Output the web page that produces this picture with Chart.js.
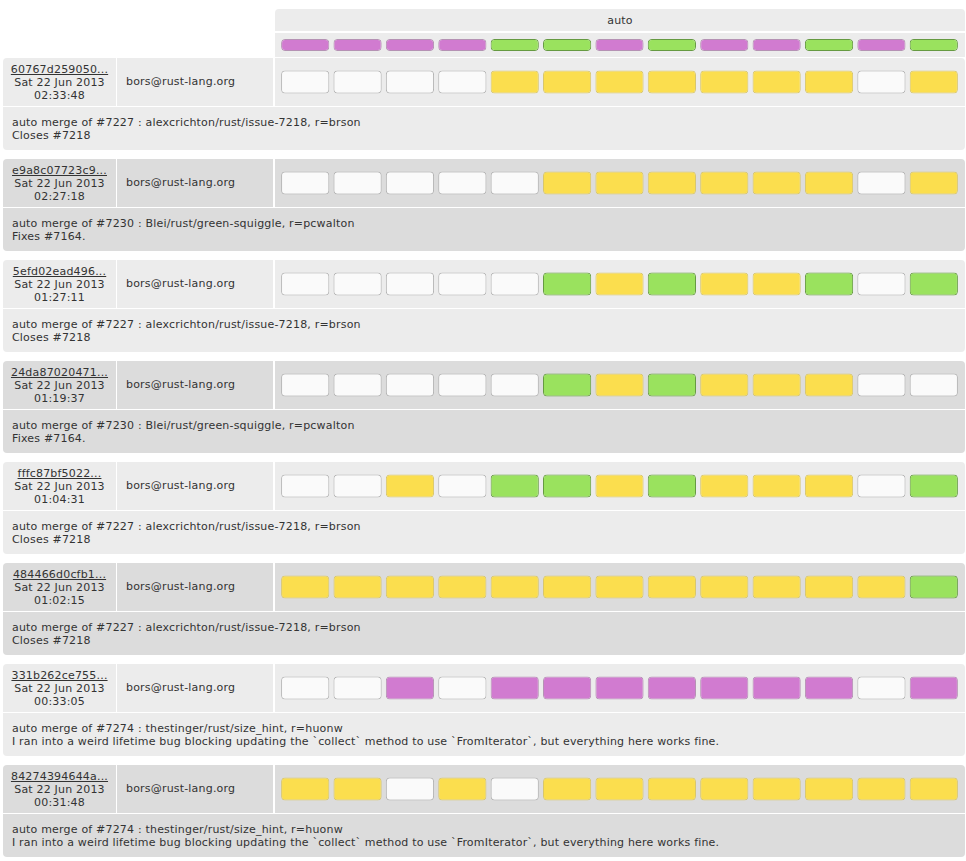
<!DOCTYPE html>
<html>
<head>
<meta charset="utf-8">
<title>auto waterfall</title>
<script src="https://cdn.jsdelivr.net/npm/chart.js@4.4.1/dist/chart.umd.min.js"></script>
<style>
    html, body { margin: 0; padding: 0; background: #fff; }
    body { font-family: "DejaVu Sans", Verdana, sans-serif; font-size: 11px; letter-spacing: 0.19px; color: #333; }
    #page { position: relative; width: 962px; margin-left: 3px; padding-top: 9px; }
    #head { margin-left: 272px; width: 690px; }
    #head .grpname { height: 22px; line-height: 24px; text-align: center; background: #ececec; border-radius: 4px 4px 0 0; }
    #head .builders { position: relative; height: 24px; margin-top: 2px; background: #ececec; }
    .block { margin-top: 1px; margin-bottom: 9px; border-radius: 4px; overflow: hidden; background: #fff; }
    .block + .block { margin-top: 0; }
    .top { display: flex; height: 48px; }
    .rev { width: 113px; text-align: center; line-height: 13px; padding-top: 5px; box-sizing: border-box; }
    .rev a { color: #333; text-decoration: underline; }
    .who { width: 156px; margin-left: 1px; line-height: 48px; padding-left: 9px; box-sizing: border-box; }
    .cells { position: relative; width: 690px; margin-left: 2px; }
    .msg { height: 43px; margin-top: 1px; padding: 9px 9px 0; box-sizing: border-box; line-height: 13px; white-space: pre; }
    .light .rev, .light .who, .light .cells, .light .msg { background: #ececec; }
    .dark .rev, .dark .who, .dark .cells, .dark .msg { background: #dcdcdc; }
</style>
</head>
<body>
<div id="page">
    <div id="head">
        <div class="grpname">auto</div>
        <div class="builders"><canvas id="builderChart"></canvas></div>
    </div>
    <div id="rows"></div>
</div>
<script>
(function () {
    'use strict';

    // 13 builders in the "auto" group (names are not shown in the view)
    const BUILDERS = ['auto-1', 'auto-2', 'auto-3', 'auto-4', 'auto-5', 'auto-6', 'auto-7',
                      'auto-8', 'auto-9', 'auto-10', 'auto-11', 'auto-12', 'auto-13'];

    // last result per builder: x = exception, s = success
    const BUILDER_STATE = ['x', 'x', 'x', 'x', 's', 's', 'x', 's', 'x', 'x', 's', 'x', 's'];

    const REVISIONS = ['60767d259050...', 'e9a8c07723c9...', '5efd02ead496...', '24da87020471...',
                       'fffc87bf5022...', '484466d0cfb1...', '331b262ce755...', '84274394644a...'];
    const DATES = ['Sat 22 Jun 2013', 'Sat 22 Jun 2013', 'Sat 22 Jun 2013', 'Sat 22 Jun 2013',
                   'Sat 22 Jun 2013', 'Sat 22 Jun 2013', 'Sat 22 Jun 2013', 'Sat 22 Jun 2013'];
    const TIMES = ['02:33:48', '02:27:18', '01:27:11', '01:19:37',
                   '01:04:31', '01:02:15', '00:33:05', '00:31:48'];
    const AUTHORS = ['bors@rust-lang.org', 'bors@rust-lang.org', 'bors@rust-lang.org', 'bors@rust-lang.org',
                     'bors@rust-lang.org', 'bors@rust-lang.org', 'bors@rust-lang.org', 'bors@rust-lang.org'];

    const MSG_7227 = 'auto merge of #7227 : alexcrichton/rust/issue-7218, r=brson\nCloses #7218';
    const MSG_7230 = 'auto merge of #7230 : Blei/rust/green-squiggle, r=pcwalton\nFixes #7164.';
    const MSG_7274 = 'auto merge of #7274 : thestinger/rust/size_hint, r=huonw\nI ran into a weird lifetime bug blocking updating the `collect` method to use `FromIterator`, but everything here works fine.';
    const MESSAGES = [MSG_7227, MSG_7230, MSG_7227, MSG_7230, MSG_7227, MSG_7227, MSG_7274, MSG_7274];

    // build state per revision and builder: n = no build, r = running, s = success, x = exception
    const BUILD_STATES = [
        ['n', 'n', 'n', 'n', 'r', 'r', 'r', 'r', 'r', 'r', 'r', 'n', 'r'],
        ['n', 'n', 'n', 'n', 'n', 'r', 'r', 'r', 'r', 'r', 'r', 'n', 'r'],
        ['n', 'n', 'n', 'n', 'n', 's', 'r', 's', 'r', 'r', 's', 'n', 's'],
        ['n', 'n', 'n', 'n', 'n', 's', 'r', 's', 'r', 'r', 'r', 'n', 'n'],
        ['n', 'n', 'r', 'n', 's', 's', 'r', 's', 'r', 'r', 'r', 'n', 's'],
        ['r', 'r', 'r', 'r', 'r', 'r', 'r', 'r', 'r', 'r', 'r', 'r', 's'],
        ['n', 'n', 'x', 'n', 'x', 'x', 'x', 'x', 'x', 'x', 'x', 'n', 'x'],
        ['r', 'r', 'n', 'r', 'n', 'r', 'r', 'r', 'r', 'r', 'r', 'r', 'r']
    ];

    const FILL = { n: '#fafafa', r: '#fbde4e', s: '#9ae25e', x: '#d17bd0' };
    const EDGE = { n: '#b4b4b4', r: '#d8c66c', s: '#669a42', x: '#b592b4' };

    function statusChart(canvas, states, yRange) {
        return new Chart(canvas, {
            type: 'bar',
            data: {
                labels: BUILDERS,
                datasets: [{
                    data: states.map(() => 1),
                    backgroundColor: states.map(s => FILL[s]),
                    borderColor: states.map(s => EDGE[s]),
                    borderWidth: 1,
                    borderRadius: 4,
                    borderSkipped: false,
                    barPercentage: 0.92,
                    categoryPercentage: 1
                }]
            },
            options: {
                animation: false,
                responsive: true,
                maintainAspectRatio: false,
                layout: { padding: { left: 4, right: 5, top: 0, bottom: 0 } },
                scales: {
                    x: { display: false },
                    y: { display: false, min: yRange[0], max: yRange[1] }
                },
                plugins: {
                    legend: { display: false },
                    tooltip: { enabled: false }
                }
            }
        });
    }

    // builder summary pills
    statusChart(document.getElementById('builderChart'), BUILDER_STATE, [-0.5, 1.5]);

    // one block per revision
    const rows = document.getElementById('rows');
    REVISIONS.forEach((rev, i) => {
        const block = document.createElement('div');
        block.className = 'block ' + (i % 2 === 0 ? 'light' : 'dark');

        const top = document.createElement('div');
        top.className = 'top';

        const revCell = document.createElement('div');
        revCell.className = 'rev';
        const link = document.createElement('a');
        link.href = '#';
        link.textContent = rev;
        revCell.appendChild(link);
        revCell.appendChild(document.createElement('br'));
        revCell.appendChild(document.createTextNode(DATES[i]));
        revCell.appendChild(document.createElement('br'));
        revCell.appendChild(document.createTextNode(TIMES[i]));

        const who = document.createElement('div');
        who.className = 'who';
        who.textContent = AUTHORS[i];

        const cells = document.createElement('div');
        cells.className = 'cells';
        const canvas = document.createElement('canvas');
        cells.appendChild(canvas);

        top.append(revCell, who, cells);

        const msg = document.createElement('div');
        msg.className = 'msg';
        msg.textContent = MESSAGES[i];

        block.append(top, msg);
        rows.appendChild(block);

        statusChart(canvas, BUILD_STATES[i], [-0.55, 1.55]);
    });
})();
</script>
</body>
</html>
